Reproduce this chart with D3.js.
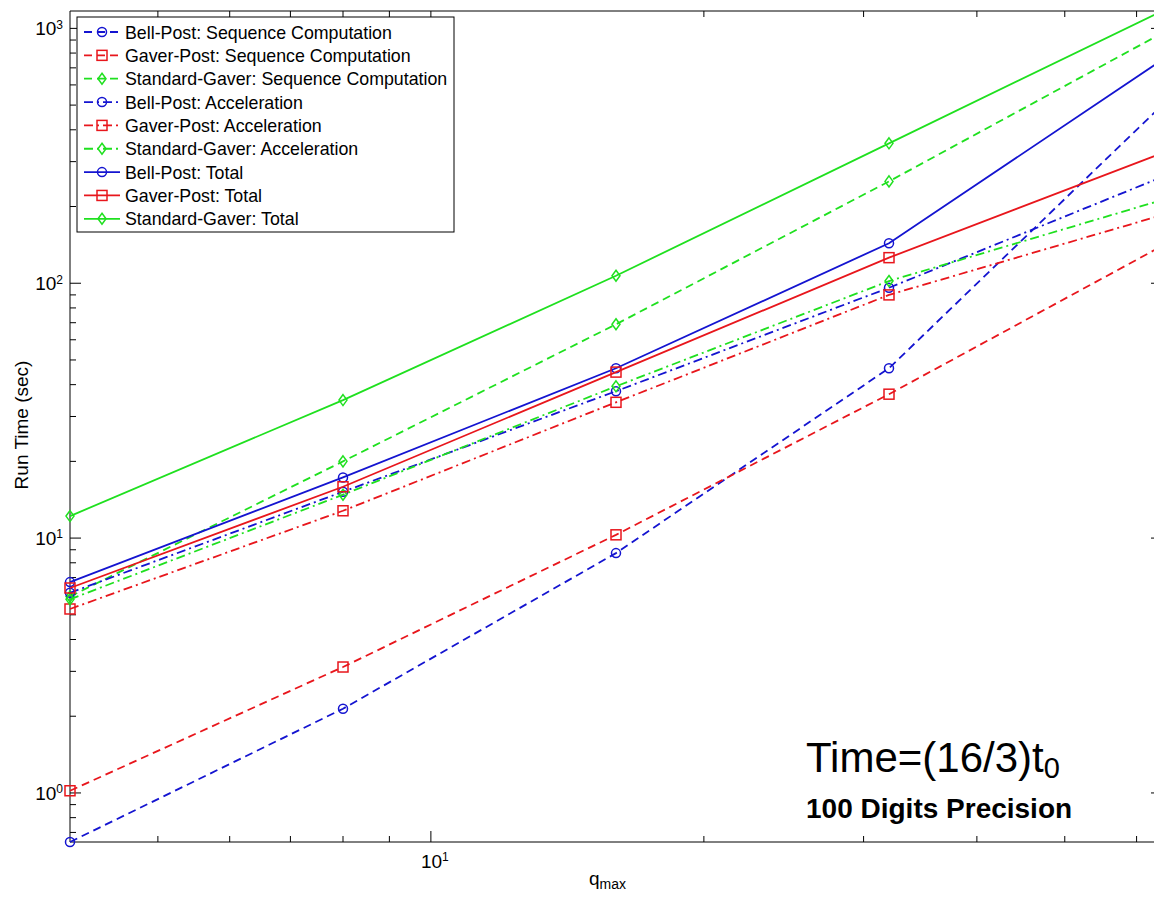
<!DOCTYPE html>
<html>
<head>
<meta charset="utf-8">
<script src="https://cdn.jsdelivr.net/npm/d3@7"></script>
<style>
  body { margin: 0; background: #fff; }
  svg { display: block; font-family: 'Liberation Sans', Arial, Helvetica, sans-serif; }
</style>
</head>
<body>
<svg id="chart" width="1154" height="898"></svg>
<script>
// run times (sec), one value per qmax
const qmax = [4, 8, 16, 32, 64]
const bellSeq = [0.642, 2.14, 8.73, 46.4, 499]
const gaverSeq = [1.02, 3.12, 10.3, 36.7, 140]
const stdSeq = [5.9, 20.0, 69, 251, 957]
const bellAcc = [6.1, 15.2, 37.7, 96, 261]
const gaverAcc = [5.27, 12.8, 34.1, 90, 185]
const stdAcc = [5.75, 14.8, 39.4, 102, 212]
const bellTot = [6.72, 17.3, 46.4, 143.5, 752]
const gaverTot = [6.37, 15.9, 44.8, 126, 324]
const stdTot = [12.2, 34.8, 107, 354, 1170]

const seriesNames = [
  'Bell-Post: Sequence Computation', 'Gaver-Post: Sequence Computation', 'Standard-Gaver: Sequence Computation',
  'Bell-Post: Acceleration', 'Gaver-Post: Acceleration', 'Standard-Gaver: Acceleration',
  'Bell-Post: Total', 'Gaver-Post: Total', 'Standard-Gaver: Total'
]
const seriesValues = [bellSeq, gaverSeq, stdSeq, bellAcc, gaverAcc, stdAcc, bellTot, gaverTot, stdTot]
const xDomain = [4, 64]
const yDomain = [0.642, 1170]
const xMajor = [10]
const xMinor = [5, 6, 7, 8, 9, 20, 30, 40, 50, 60]
const yMajor = [1, 10, 100, 1000]

const colors = ['#1414d0', '#e8161c', '#1fe01f']
const markers = ['circle', 'square', 'diamond']
const dashes = ['8,5', '9,4,2,4', null]

const series = seriesNames.map((name, i) => ({
  name,
  values: seriesValues[i],
  color: colors[i % 3],
  marker: markers[i % 3],
  dash: dashes[Math.floor(i / 3)]
}))

const svg = d3.select('#chart')
const m = { left: 70, top: 11, right: 1162, bottom: 842 }

const x = d3.scaleLog().domain(xDomain).range([m.left, m.right])
const y = d3.scaleLog().domain(yDomain).range([m.bottom, m.top])

const yMinor = []
for (let e = -1; e <= 3; e++) {
  for (let k = 2; k <= 9; k++) {
    const v = k * Math.pow(10, e)
    if (v >= yDomain[0] && v <= yDomain[1]) yMinor.push(v)
  }
}

// axis box + inward ticks
const gAxes = svg.append('g').attr('stroke', '#000').attr('stroke-width', 1).attr('fill', 'none')
gAxes.append('line').attr('x1', m.left).attr('x2', m.right).attr('y1', m.top).attr('y2', m.top)
gAxes.append('line').attr('x1', m.left).attr('x2', m.right).attr('y1', m.bottom).attr('y2', m.bottom)
gAxes.append('line').attr('x1', m.left).attr('x2', m.left).attr('y1', m.top).attr('y2', m.bottom)
gAxes.append('line').attr('x1', m.right).attr('x2', m.right).attr('y1', m.top).attr('y2', m.bottom)

const xTicks = [...xMajor.map((v) => [v, 11]), ...xMinor.map((v) => [v, 6])]
xTicks.forEach(([v, len]) => {
  gAxes.append('line').attr('x1', x(v)).attr('x2', x(v)).attr('y1', m.bottom).attr('y2', m.bottom - len)
  gAxes.append('line').attr('x1', x(v)).attr('x2', x(v)).attr('y1', m.top).attr('y2', m.top + len)
})
const yTicks = [...yMajor.map((v) => [v, 11]), ...yMinor.map((v) => [v, 6])]
yTicks.forEach(([v, len]) => {
  gAxes.append('line').attr('y1', y(v)).attr('y2', y(v)).attr('x1', m.left).attr('x2', m.left + len)
  gAxes.append('line').attr('y1', y(v)).attr('y2', y(v)).attr('x1', m.right).attr('x2', m.right - len)
})

// tick labels
const powLabel = (sel, v) => {
  const t = sel.append('text').style('font-size', '19px').attr('fill', '#000')
  t.append('tspan').text('10')
  t.append('tspan').attr('dy', '-0.55em').style('font-size', '12px').text(Math.round(Math.log10(v)))
  return t
}
yMajor.forEach((v) => {
  powLabel(svg, v).attr('x', m.left - 7).attr('y', y(v) + 7).attr('text-anchor', 'end')
})
xMajor.forEach((v) => {
  powLabel(svg, v).attr('x', x(v) + 4).attr('y', m.bottom + 26).attr('text-anchor', 'middle')
})

// axis titles
svg.append('text')
  .attr('transform', `translate(28, 425) rotate(-90)`)
  .attr('text-anchor', 'middle')
  .style('font-size', '19px')
  .text('Run Time (sec)')
const xt = svg.append('text').attr('x', 589).attr('y', 885).style('font-size', '19px')
xt.append('tspan').text('q')
xt.append('tspan').attr('dy', '0.3em').style('font-size', '14px').text('max')

// lines and markers
const line = d3.line().x((d, i) => x(qmax[i])).y((d) => y(d))
const drawMarker = (g, type, cx, cy, color) => {
  if (type === 'circle') {
    g.append('circle').attr('cx', cx).attr('cy', cy).attr('r', 4.5)
      .attr('fill', 'none').attr('stroke', color).attr('stroke-width', 1.5)
  } else if (type === 'square') {
    g.append('rect').attr('x', cx - 5).attr('y', cy - 5).attr('width', 10).attr('height', 10)
      .attr('fill', 'none').attr('stroke', color).attr('stroke-width', 1.5)
  } else {
    g.append('path').attr('d', `M${cx},${cy - 5.5}L${cx + 4},${cy}L${cx},${cy + 5.5}L${cx - 4},${cy}Z`)
      .attr('fill', 'none').attr('stroke', color).attr('stroke-width', 1.5)
  }
}

const gSeries = svg.append('g')
series.forEach((s) => {
  const g = gSeries.append('g')
  g.append('path')
    .attr('d', line(s.values))
    .attr('fill', 'none')
    .attr('stroke', s.color)
    .attr('stroke-width', 1.8)
    .attr('stroke-dasharray', s.dash)
  s.values.forEach((v, i) => drawMarker(g, s.marker, x(qmax[i]), y(v), s.color))
})

// legend
const lg = svg.append('g').attr('transform', 'translate(77, 17)')
lg.append('rect').attr('width', 377).attr('height', 215)
  .attr('fill', '#fff').attr('stroke', '#000').attr('stroke-width', 1)
series.forEach((s, i) => {
  const cy = 15 + i * 23.35
  lg.append('line').attr('x1', 7).attr('x2', 43).attr('y1', cy).attr('y2', cy)
    .attr('stroke', s.color).attr('stroke-width', 1.8).attr('stroke-dasharray', s.dash)
  drawMarker(lg, s.marker, 25, cy, s.color)
  lg.append('text').attr('x', 48).attr('y', cy + 6.5).style('font-size', '17.8px').text(s.name)
})

// annotation
const ann = svg.append('text').attr('x', 806).attr('y', 772).style('font-size', '42px')
ann.append('tspan').text('Time=(16/3)t')
ann.append('tspan').attr('dy', '0.22em').style('font-size', '29px').text('0')
svg.append('text').attr('x', 806).attr('y', 818)
  .style('font-size', '28px').style('font-weight', 'bold')
  .text('100 Digits Precision')
</script>
</body>
</html>
